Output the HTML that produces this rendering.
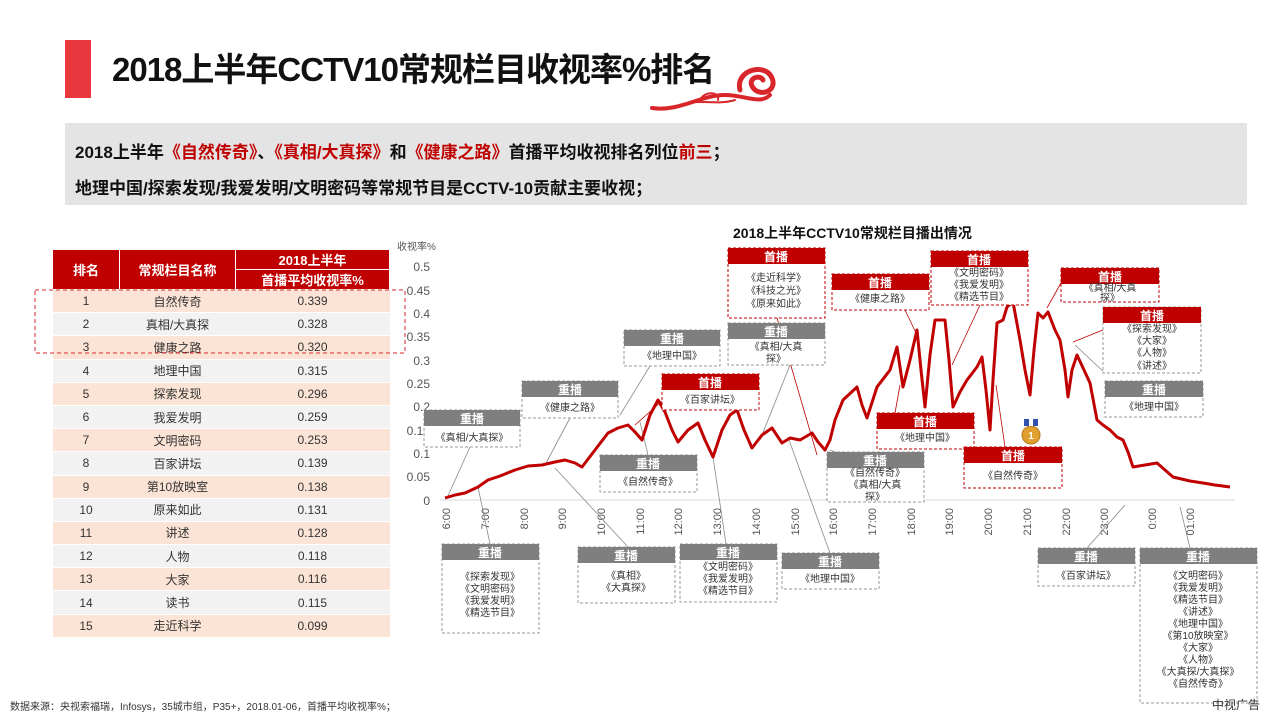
<!DOCTYPE html>
<html><head><meta charset="utf-8">
<style>
*{margin:0;padding:0;box-sizing:border-box}
body{width:1280px;height:720px;background:#fff;position:relative;overflow:hidden;font-family:"Liberation Sans","Noto Sans CJK SC",sans-serif}
.bar{position:absolute;left:65px;top:40px;width:26px;height:58px;background:#e8383d}
.title{position:absolute;left:112px;top:50px;font-size:33px;font-weight:bold;color:#111;letter-spacing:-1px;line-height:40px}
.sum{position:absolute;left:65px;top:123px;width:1182px;height:82px;background:#e4e4e4;padding:12px 0 0 10px;font-size:17px;font-weight:bold;color:#111;line-height:36px}
.r{color:#c00000}
table{position:absolute;left:52px;top:249px;width:338px;border-collapse:collapse;font-size:12px;color:#333;text-align:center}
th{background:#c00000;color:#fff;font-weight:bold;font-size:13px;border:1px solid #fff;height:20px;padding:0}
td{height:23.2px;padding:0;border-bottom:1px solid #fff}
tr.o td{background:#fbe4d5}
tr.e td{background:#f2f2f2}
svg{position:absolute;left:0;top:0}
.foot{position:absolute;left:10px;top:698px;font-size:10px;color:#333}
.logo{position:absolute;left:1212px;top:696px;font-size:12px;color:#333}
</style></head><body>
<div class="bar"></div>
<div class="title">2018上半年CCTV10常规栏目收视率%排名</div>
<div class="sum">2018上半年<span class="r">《自然传奇》</span>、<span class="r">《真相/大真探》</span>和<span class="r">《健康之路》</span>首播平均收视排名列位<span class="r">前三</span>；<br>地理中国/探索发现/我爱发明/文明密码等常规节目是CCTV-10贡献主要收视；</div>
<table>
<tr><th rowspan="2" style="width:67px">排名</th><th rowspan="2" style="width:116px">常规栏目名称</th><th>2018上半年</th></tr>
<tr><th>首播平均收视率%</th></tr>
<tr class="o"><td>1</td><td>自然传奇</td><td>0.339</td></tr>
<tr class="e"><td>2</td><td>真相/大真探</td><td>0.328</td></tr>
<tr class="o"><td>3</td><td>健康之路</td><td>0.320</td></tr>
<tr class="e"><td>4</td><td>地理中国</td><td>0.315</td></tr>
<tr class="o"><td>5</td><td>探索发现</td><td>0.296</td></tr>
<tr class="e"><td>6</td><td>我爱发明</td><td>0.259</td></tr>
<tr class="o"><td>7</td><td>文明密码</td><td>0.253</td></tr>
<tr class="e"><td>8</td><td>百家讲坛</td><td>0.139</td></tr>
<tr class="o"><td>9</td><td>第10放映室</td><td>0.138</td></tr>
<tr class="e"><td>10</td><td>原来如此</td><td>0.131</td></tr>
<tr class="o"><td>11</td><td>讲述</td><td>0.128</td></tr>
<tr class="e"><td>12</td><td>人物</td><td>0.118</td></tr>
<tr class="o"><td>13</td><td>大家</td><td>0.116</td></tr>
<tr class="e"><td>14</td><td>读书</td><td>0.115</td></tr>
<tr class="o"><td>15</td><td>走近科学</td><td>0.099</td></tr>
</table>
<svg width="1280" height="720" viewBox="0 0 1280 720" font-family="Liberation Sans, Noto Sans CJK SC, sans-serif">
<!-- cloud -->
<g fill="none" stroke="#d9262b" stroke-linecap="round">
<path d="M652 108 C680 112 700 95 725 95 C745 95 760 105 770 95" stroke-width="4"/>
<path d="M740 90 C735 70 765 62 772 78 C778 92 758 98 752 86 C748 78 760 74 763 80" stroke-width="5"/>
<path d="M700 100 C705 90 720 92 718 100" stroke-width="2"/>
<path d="M680 105 C700 98 715 106 735 100" stroke-width="2"/>
</g>
<rect x="35" y="290" width="370" height="63" fill="none" stroke="#d9262b" stroke-dasharray="4,3"/>
<text x="733" y="238" font-size="14" font-weight="bold" fill="#111">2018上半年CCTV10常规栏目播出情况</text>
<text x="397" y="250" font-size="10" fill="#555">收视率%</text>
<g font-size="12" fill="#555" text-anchor="end">
<text x="430" y="271">0.5</text><text x="430" y="295">0.45</text><text x="430" y="318">0.4</text><text x="430" y="341">0.35</text><text x="430" y="365">0.3</text><text x="430" y="388">0.25</text><text x="430" y="411">0.2</text><text x="430" y="435">0.15</text><text x="430" y="458">0.1</text><text x="430" y="481">0.05</text><text x="430" y="505">0</text>
</g>
<line x1="440" y1="500" x2="1235" y2="500" stroke="#d9d9d9"/>
<g font-size="11" fill="#555" text-anchor="end">
<text transform="translate(450,508) rotate(-90)">6:00</text>
<text transform="translate(489,508) rotate(-90)">7:00</text>
<text transform="translate(528,508) rotate(-90)">8:00</text>
<text transform="translate(566,508) rotate(-90)">9:00</text>
<text transform="translate(605,508) rotate(-90)">10:00</text>
<text transform="translate(644,508) rotate(-90)">11:00</text>
<text transform="translate(682,508) rotate(-90)">12:00</text>
<text transform="translate(721,508) rotate(-90)">13:00</text>
<text transform="translate(760,508) rotate(-90)">14:00</text>
<text transform="translate(799,508) rotate(-90)">15:00</text>
<text transform="translate(837,508) rotate(-90)">16:00</text>
<text transform="translate(876,508) rotate(-90)">17:00</text>
<text transform="translate(915,508) rotate(-90)">18:00</text>
<text transform="translate(953,508) rotate(-90)">19:00</text>
<text transform="translate(992,508) rotate(-90)">20:00</text>
<text transform="translate(1031,508) rotate(-90)">21:00</text>
<text transform="translate(1070,508) rotate(-90)">22:00</text>
<text transform="translate(1108,508) rotate(-90)">23:00</text>
<text transform="translate(1156,508) rotate(-90)">0:00</text>
<text transform="translate(1194,508) rotate(-90)">01:00</text>
</g>
<!-- leader lines -->
<g stroke="#888" stroke-width="0.8" fill="none">
<path d="M470 447 L447 498"/><path d="M570 418 L545 465"/><path d="M650 366 L620 415"/>
<path d="M790 365 L760 440"/><path d="M490 544 L478 487"/><path d="M628 547 L555 468"/>
<path d="M726 544 L713 457"/><path d="M830 553 L789 440"/><path d="M1087 548 L1125 505"/>
<path d="M1190 548 L1180 507"/><path d="M648 455 L640 422"/><path d="M876 468 L830 450"/>
<path d="M1105 373 L1075 345"/>
</g>
<g stroke="#c00000" stroke-width="0.8" fill="none">
<path d="M680 385 L635 425"/><path d="M777 318 L817 455"/><path d="M905 310 L917 335"/>
<path d="M980 305 L952 365"/><path d="M1061 283 L1047 308"/><path d="M1103 330 L1073 342"/>
<path d="M895 413 L900 385"/><path d="M1005 447 L996 385"/>
</g>
<polyline fill="none" stroke="#c00000" stroke-width="3" stroke-linejoin="round" points="445,498 455,495 465,493 478,487 488,480 500,476 515,470 528,466 542,465 555,462 565,460 575,463 582,467 595,450 608,433 618,428 628,425 635,432 642,440 650,415 658,400 665,412 672,430 678,442 688,430 698,423 705,440 713,457 722,430 730,415 737,410 744,430 752,448 762,435 772,428 782,443 790,438 800,440 812,433 818,442 825,450 830,440 835,420 843,400 857,387 862,405 867,418 877,387 890,370 897,347 903,387 910,360 917,330 921,370 925,407 930,355 935,320 945,320 949,360 953,407 960,392 967,380 977,367 982,357 986,390 990,430 993,380 997,323 1003,320 1007,307 1013,302 1020,340 1025,370 1030,395 1034,350 1038,313 1043,318 1048,312 1055,330 1060,340 1065,370 1068,397 1072,370 1077,355 1084,370 1090,383 1097,420 1103,425 1110,430 1117,437 1123,440 1128,452 1133,467 1145,465 1157,463 1165,470 1173,477 1190,481 1203,483 1215,485 1230,487"/>
<circle cx="1031" cy="435" r="9" fill="#e0a030" stroke="#b57a1a"/><text x="1031" y="439" font-size="10" fill="#fff" text-anchor="middle" font-weight="bold">1</text>
<rect x="1024" y="419" width="14" height="7" fill="#3050b0"/><rect x="1029" y="419" width="4" height="7" fill="#fff"/>
<!-- boxes -->
<g font-size="10" fill="#333" text-anchor="middle">
<g><rect x="424" y="410" width="96" height="37" fill="#fff" stroke="#999" stroke-dasharray="3,2"/><rect x="424" y="410" width="96" height="16" fill="#7f7f7f"/><text x="472" y="423" fill="#fff" font-size="12" font-weight="bold">重播</text><text x="472" y="441">《真相/大真探》</text></g>
<g><rect x="522" y="381" width="96" height="37" fill="#fff" stroke="#999" stroke-dasharray="3,2"/><rect x="522" y="381" width="96" height="16" fill="#7f7f7f"/><text x="570" y="394" fill="#fff" font-size="12" font-weight="bold">重播</text><text x="570" y="411">《健康之路》</text></g>
<g><rect x="624" y="330" width="96" height="36" fill="#fff" stroke="#999" stroke-dasharray="3,2"/><rect x="624" y="330" width="96" height="16" fill="#7f7f7f"/><text x="672" y="343" fill="#fff" font-size="12" font-weight="bold">重播</text><text x="672" y="359">《地理中国》</text></g>
<g><rect x="728" y="248" width="97" height="70" fill="#fff" stroke="#c00000" stroke-dasharray="3,2"/><rect x="728" y="248" width="97" height="16" fill="#c00000"/><text x="776" y="261" fill="#fff" font-size="12" font-weight="bold">首播</text><text x="776" y="281">《走近科学》</text><text x="776" y="294">《科技之光》</text><text x="776" y="307">《原来如此》</text></g>
<g><rect x="728" y="323" width="97" height="42" fill="#fff" stroke="#999" stroke-dasharray="3,2"/><rect x="728" y="323" width="97" height="16" fill="#7f7f7f"/><text x="776" y="336" fill="#fff" font-size="12" font-weight="bold">重播</text><text x="776" y="350">《真相/大真</text><text x="776" y="362">探》</text></g>
<g><rect x="662" y="374" width="97" height="36" fill="#fff" stroke="#c00000" stroke-dasharray="3,2"/><rect x="662" y="374" width="97" height="16" fill="#c00000"/><text x="710" y="387" fill="#fff" font-size="12" font-weight="bold">首播</text><text x="710" y="403">《百家讲坛》</text></g>
<g><rect x="600" y="455" width="97" height="37" fill="#fff" stroke="#999" stroke-dasharray="3,2"/><rect x="600" y="455" width="97" height="16" fill="#7f7f7f"/><text x="648" y="468" fill="#fff" font-size="12" font-weight="bold">重播</text><text x="648" y="485">《自然传奇》</text></g>
<g><rect x="827" y="452" width="97" height="50" fill="#fff" stroke="#999" stroke-dasharray="3,2"/><rect x="827" y="452" width="97" height="16" fill="#7f7f7f"/><text x="875" y="465" fill="#fff" font-size="12" font-weight="bold">重播</text><text x="875" y="476">《自然传奇》</text><text x="875" y="488">《真相/大真</text><text x="875" y="500">探》</text></g>
<g><rect x="832" y="274" width="97" height="36" fill="#fff" stroke="#c00000" stroke-dasharray="3,2"/><rect x="832" y="274" width="97" height="16" fill="#c00000"/><text x="880" y="287" fill="#fff" font-size="12" font-weight="bold">首播</text><text x="880" y="302">《健康之路》</text></g>
<g><rect x="931" y="251" width="97" height="54" fill="#fff" stroke="#c00000" stroke-dasharray="3,2"/><rect x="931" y="251" width="97" height="16" fill="#c00000"/><text x="979" y="264" fill="#fff" font-size="12" font-weight="bold">首播</text><text x="979" y="276">《文明密码》</text><text x="979" y="288">《我爱发明》</text><text x="979" y="300">《精选节目》</text></g>
<g><rect x="1061" y="268" width="98" height="34" fill="#fff" stroke="#c00000" stroke-dasharray="3,2"/><rect x="1061" y="268" width="98" height="16" fill="#c00000"/><text x="1110" y="281" fill="#fff" font-size="12" font-weight="bold">首播</text><text x="1110" y="291">《真相/大真</text><text x="1110" y="301">探》</text></g>
<g><rect x="1103" y="307" width="98" height="66" fill="#fff" stroke="#999" stroke-dasharray="3,2"/><rect x="1103" y="307" width="98" height="16" fill="#c00000"/><text x="1152" y="320" fill="#fff" font-size="12" font-weight="bold">首播</text><text x="1152" y="332">《探索发现》</text><text x="1152" y="344">《大家》</text><text x="1152" y="356">《人物》</text><text x="1152" y="369">《讲述》</text></g>
<g><rect x="1105" y="381" width="98" height="36" fill="#fff" stroke="#999" stroke-dasharray="3,2"/><rect x="1105" y="381" width="98" height="16" fill="#7f7f7f"/><text x="1154" y="394" fill="#fff" font-size="12" font-weight="bold">重播</text><text x="1154" y="410">《地理中国》</text></g>
<g><rect x="877" y="413" width="97" height="36" fill="#fff" stroke="#c00000" stroke-dasharray="3,2"/><rect x="877" y="413" width="97" height="16" fill="#c00000"/><text x="925" y="426" fill="#fff" font-size="12" font-weight="bold">首播</text><text x="925" y="441">《地理中国》</text></g>
<g><rect x="964" y="447" width="98" height="41" fill="#fff" stroke="#c00000" stroke-dasharray="3,2"/><rect x="964" y="447" width="98" height="16" fill="#c00000"/><text x="1013" y="460" fill="#fff" font-size="12" font-weight="bold">首播</text><text x="1013" y="479">《自然传奇》</text></g>
<g><rect x="442" y="544" width="97" height="89" fill="#fff" stroke="#999" stroke-dasharray="3,2"/><rect x="442" y="544" width="97" height="16" fill="#7f7f7f"/><text x="490" y="557" fill="#fff" font-size="12" font-weight="bold">重播</text><text x="490" y="580">《探索发现》</text><text x="490" y="592">《文明密码》</text><text x="490" y="604">《我爱发明》</text><text x="490" y="616">《精选节目》</text></g>
<g><rect x="578" y="547" width="97" height="56" fill="#fff" stroke="#999" stroke-dasharray="3,2"/><rect x="578" y="547" width="97" height="16" fill="#7f7f7f"/><text x="626" y="560" fill="#fff" font-size="12" font-weight="bold">重播</text><text x="626" y="579">《真相》</text><text x="626" y="591">《大真探》</text></g>
<g><rect x="680" y="544" width="97" height="58" fill="#fff" stroke="#999" stroke-dasharray="3,2"/><rect x="680" y="544" width="97" height="16" fill="#7f7f7f"/><text x="728" y="557" fill="#fff" font-size="12" font-weight="bold">重播</text><text x="728" y="570">《文明密码》</text><text x="728" y="582">《我爱发明》</text><text x="728" y="594">《精选节目》</text></g>
<g><rect x="782" y="553" width="97" height="36" fill="#fff" stroke="#999" stroke-dasharray="3,2"/><rect x="782" y="553" width="97" height="16" fill="#7f7f7f"/><text x="830" y="566" fill="#fff" font-size="12" font-weight="bold">重播</text><text x="830" y="582">《地理中国》</text></g>
<g><rect x="1038" y="548" width="97" height="38" fill="#fff" stroke="#999" stroke-dasharray="3,2"/><rect x="1038" y="548" width="97" height="16" fill="#7f7f7f"/><text x="1086" y="561" fill="#fff" font-size="12" font-weight="bold">重播</text><text x="1086" y="579">《百家讲坛》</text></g>
<g><rect x="1140" y="548" width="117" height="155" fill="#fff" stroke="#999" stroke-dasharray="3,2"/><rect x="1140" y="548" width="117" height="16" fill="#7f7f7f"/><text x="1198" y="561" fill="#fff" font-size="12" font-weight="bold">重播</text><text x="1198" y="579">《文明密码》</text><text x="1198" y="591">《我爱发明》</text><text x="1198" y="603">《精选节目》</text><text x="1198" y="615">《讲述》</text><text x="1198" y="627">《地理中国》</text><text x="1198" y="639">《第10放映室》</text><text x="1198" y="651">《大家》</text><text x="1198" y="663">《人物》</text><text x="1198" y="675">《大真探/大真探》</text><text x="1198" y="687">《自然传奇》</text></g>
</g>
</svg>
<div class="foot">数据来源：央视索福瑞，Infosys，35城市组，P35+，2018.01-06，首播平均收视率%；</div>
<div class="logo">中视广告</div>
</body></html>
